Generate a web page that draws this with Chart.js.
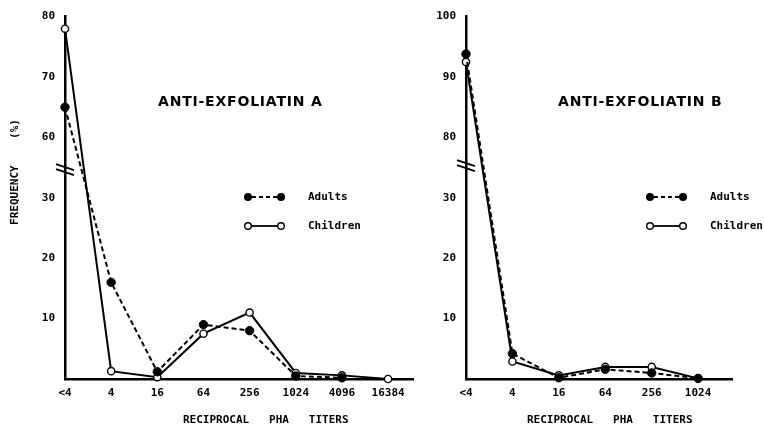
<!DOCTYPE html>
<html>
<head>
<meta charset="utf-8">
<script src="https://cdn.jsdelivr.net/npm/chart.js@4/dist/chart.umd.min.js"></script>
<style>
  html, body { margin: 0; padding: 0; background: #fff; }
  #wrap { position: relative; width: 764px; height: 431px; }
  #cA { position: absolute; left: 0; top: 0; }
  #cB { position: absolute; left: 420px; top: 0; }
</style>
</head>
<body>
<div id="wrap">
  <canvas id="cA" width="420" height="431"></canvas>
  <canvas id="cB" width="344" height="431"></canvas>
</div>
<script>
// ---- data ----
const titersA = ['<4', '4', '16', '64', '256', '1024', '4096', '16384'];
const adultsA = [65, 16, 1.2, 9, 8, 0.5, 0.2, null];
const childrenA = [78, 1.3, 0.3, 7.5, 11, 1.0, 0.6, 0];
const yTicksA = ['', '10', '20', '30', '60', '70', '80'];

const titersB = ['<4', '4', '16', '64', '256', '1024'];
const adultsB = [93.8, 4.2, 0.2, 1.6, 1.0, 0.1];
const childrenB = [92.5, 2.9, 0.6, 2.0, 2.0, 0.1];
const yTicksB = ['', '10', '20', '30', '80', '90', '100'];

// axis break: values above the break are shifted down so they sit above 30
const breakA = { low: 30, high: 60 };
const breakB = { low: 30, high: 80 };

const FONT = '"DejaVu Sans Mono", monospace';

function mapVal(v, br) {
  if (v === null) return null;
  return v <= br.low ? v : v - (br.high - br.low - 10);
}
function pts(values, br) {
  return values.map((v, i) => (v === null ? null : { x: i, y: mapVal(v, br) })).filter(p => p !== null);
}

function makeChart(canvasId, cats, adults, children, yTicks, br, cfg) {
  const overlay = {
    id: 'overlay',
    afterDraw(chart) {
      const ctx = chart.ctx;
      const ca = chart.chartArea;
      ctx.save();
      // break marks on y axis
      const ys = chart.scales.y;
      const yb = (ys.getPixelForValue(30) + ys.getPixelForValue(40)) / 2 + cfg.breakShift;
      ctx.strokeStyle = '#000';
      ctx.lineWidth = 1.8;
      [-2.5, 2.5].forEach(d => {
        ctx.beginPath();
        ctx.moveTo(ca.left - 9, yb + d - 3);
        ctx.lineTo(ca.left + 9, yb + d + 3);
        ctx.stroke();
      });
      // panel title
      ctx.fillStyle = '#000';
      ctx.font = 'bold 14px "DejaVu Sans", sans-serif';
      ctx.textBaseline = 'middle';
      ctx.textAlign = 'left';
      if (ctx.letterSpacing !== undefined) ctx.letterSpacing = '0.8px';
      ctx.fillText(cfg.title, cfg.titleX, 102);
      if (ctx.letterSpacing !== undefined) ctx.letterSpacing = '0px';
      // legend
      const lx0 = cfg.legX, lx1 = cfg.legX + 33;
      ctx.font = 'bold 11px ' + FONT;
      // adults
      ctx.lineWidth = 1.8;
      ctx.setLineDash([4, 3]);
      ctx.beginPath(); ctx.moveTo(lx0 + 4, 197); ctx.lineTo(lx1 - 4, 197); ctx.stroke();
      ctx.setLineDash([]);
      [lx0, lx1].forEach(x => { ctx.beginPath(); ctx.arc(x, 197, 4, 0, Math.PI * 2); ctx.fillStyle = '#000'; ctx.fill(); });
      ctx.fillStyle = '#000';
      ctx.fillText('Adults', cfg.legTextX, 197);
      // children
      ctx.beginPath(); ctx.moveTo(lx0 + 3, 226); ctx.lineTo(lx1 - 3, 226); ctx.stroke();
      [lx0, lx1].forEach(x => { ctx.beginPath(); ctx.arc(x, 226, 3.3, 0, Math.PI * 2); ctx.fillStyle = '#fff'; ctx.fill(); ctx.lineWidth = 1.4; ctx.stroke(); });
      ctx.fillStyle = '#000';
      ctx.fillText('Children', cfg.legTextX, 226);
      // axis titles
      ctx.font = 'bold 11px ' + FONT;
      ctx.textAlign = 'left';
      ctx.fillText('RECIPROCAL   PHA   TITERS', cfg.xTitleX, 420);
      if (cfg.yTitle) {
        ctx.translate(15, 172);
        ctx.rotate(-Math.PI / 2);
        ctx.textAlign = 'center';
        ctx.fillText('FREQUENCY    (%)', 0, 0);
      }
      ctx.restore();
    }
  };

  return new Chart(document.getElementById(canvasId), {
    type: 'scatter',
    data: {
      datasets: [
        {
          label: 'Adults',
          data: pts(adults, br),
          showLine: true,
          borderColor: '#000',
          backgroundColor: '#000',
          borderWidth: 2,
          borderDash: [5, 3],
          pointRadius: 4.2,
          pointBorderWidth: 1,
          pointBackgroundColor: '#000',
          pointBorderColor: '#000',
          tension: 0
        },
        {
          label: 'Children',
          data: pts(children, br),
          showLine: true,
          borderColor: '#000',
          backgroundColor: '#fff',
          borderWidth: 2,
          pointRadius: 3.6,
          pointBorderWidth: 1.4,
          pointBackgroundColor: '#fff',
          pointBorderColor: '#000',
          tension: 0
        }
      ]
    },
    options: {
      responsive: false,
      animation: false,
      clip: false,
      layout: { padding: { left: 0, right: cfg.padRight, top: 15, bottom: 0 } },
      plugins: { legend: { display: false }, tooltip: { enabled: false } },
      scales: {
        x: {
          type: 'linear',
          min: 0,
          max: cfg.xMax,
          afterFit(s) { s.height = 52; },
          afterBuildTicks(s) { s.ticks = cats.map((c, i) => ({ value: i })); },
          grid: { display: false, drawTicks: false },
          border: { display: true, color: '#000', width: 2.5 },
          ticks: {
            autoSkip: false,
            maxRotation: 0,
            padding: 8,
            color: '#000',
            font: { family: FONT, size: 11, weight: 'bold' },
            callback(v) { return Number.isInteger(v) && cats[v] !== undefined ? cats[v] : ''; }
          }
        },
        y: {
          min: 0,
          max: 60,
          afterFit(s) { s.width = cfg.yWidth; },
          grid: { display: false, drawTicks: false },
          border: { display: true, color: '#000', width: 2.5 },
          ticks: {
            stepSize: 10,
            padding: 10,
            color: '#000',
            font: { family: FONT, size: 11, weight: 'bold' },
            callback(v) { const i = Math.round(v / 10); return yTicks[i] !== undefined ? yTicks[i] : ''; }
          }
        }
      }
    },
    plugins: [overlay]
  });
}

makeChart('cA', titersA, adultsA, childrenA, yTicksA, breakA, {
  xMax: 7.54, yWidth: 65, padRight: 7, breakShift: 2,
  title: 'ANTI-EXFOLIATIN A', titleX: 158,
  legX: 248, legTextX: 308, xTitleX: 183, yTitle: true
});
makeChart('cB', titersB, adultsB, childrenB, yTicksB, breakB, {
  xMax: 5.73, yWidth: 46, padRight: 32, breakShift: -2,
  title: 'ANTI-EXFOLIATIN B', titleX: 138,
  legX: 230, legTextX: 290, xTitleX: 107, yTitle: false
});
</script>
</body>
</html>
